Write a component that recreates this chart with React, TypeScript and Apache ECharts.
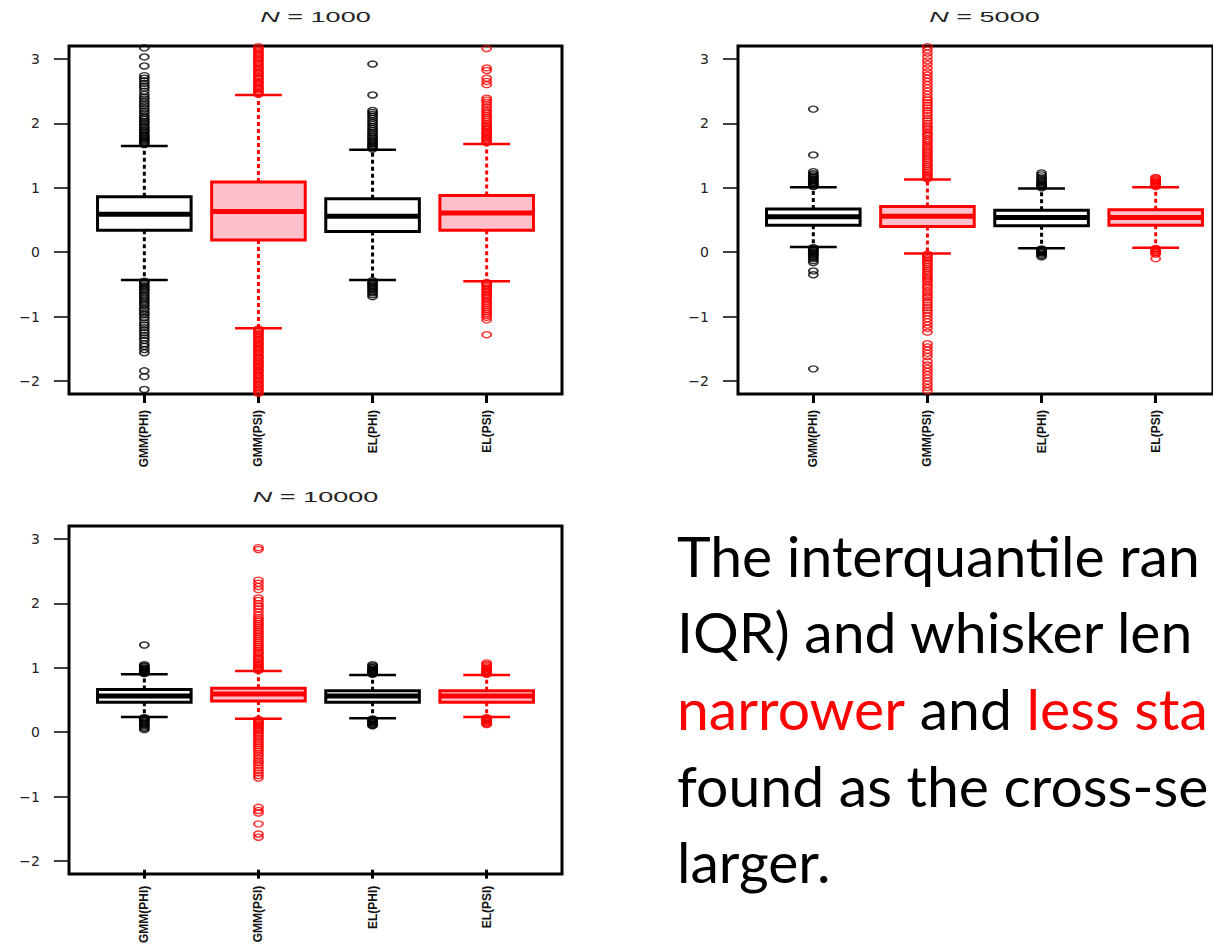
import React, { useEffect, useRef } from "react";
import * as echarts from "echarts";

// ---------------- data ----------------
const categories = ["GMM(PHI)", "GMM(PSI)", "EL(PHI)", "EL(PSI)"];
const yTickValues = [-2, -1, 0, 1, 2, 3];
const sampleSizes = ["1000", "5000", "10000"];

// box stats: [lower whisker, Q1, median, Q3, upper whisker]
const box1000 = [
  [-0.43, 0.34, 0.59, 0.86, 1.65],
  [-1.18, 0.19, 0.63, 1.09, 2.44],
  [-0.43, 0.32, 0.56, 0.83, 1.59],
  [-0.45, 0.34, 0.61, 0.88, 1.68],
];
const box5000 = [
  [0.08, 0.42, 0.55, 0.67, 1.01],
  [-0.02, 0.4, 0.56, 0.71, 1.13],
  [0.06, 0.41, 0.54, 0.65, 0.99],
  [0.07, 0.42, 0.54, 0.66, 1.01],
];
const box10000 = [
  [0.2, 0.43, 0.53, 0.63, 0.87],
  [0.17, 0.45, 0.56, 0.65, 0.92],
  [0.18, 0.43, 0.53, 0.61, 0.86],
  [0.2, 0.43, 0.53, 0.61, 0.86],
];

// outliers
const out1000GmmPhi = [1.67, 1.69, 1.71, 1.73, 1.75, 1.77, 1.79, 1.81, 1.83, 1.86, 1.88, 1.9, 1.93, 1.95, 1.98, 2.01, 2.03, 2.06, 2.09, 2.12, 2.16, 2.19, 2.23, 2.27, 2.3, 2.34, 2.38, 2.41, 2.45, 2.5, 2.55, 2.58, 2.62, 2.66, 2.7, 2.74, 2.89, 3.03, 3.17,
  -0.45, -0.47, -0.49, -0.52, -0.54, -0.57, -0.59, -0.62, -0.65, -0.68, -0.71, -0.74, -0.77, -0.8, -0.83, -0.87, -0.9, -0.94, -0.97, -1.01, -1.05, -1.1, -1.13, -1.17, -1.21, -1.25, -1.29, -1.33, -1.37, -1.42, -1.46, -1.51, -1.56, -1.84, -1.93, -2.13];
const out1000GmmPsi = [2.45, 2.47, 2.49, 2.52, 2.54, 2.56, 2.58, 2.61, 2.63, 2.65, 2.68, 2.7, 2.72, 2.74, 2.77, 2.79, 2.81, 2.84, 2.86, 2.88, 2.91, 2.93, 2.95, 2.98, 3.0, 3.02, 3.05, 3.07, 3.09, 3.12, 3.14, 3.16, 3.19,
  -1.19, -1.21, -1.23, -1.26, -1.28, -1.3, -1.33, -1.35, -1.37, -1.4, -1.42, -1.44, -1.47, -1.49, -1.51, -1.54, -1.56, -1.58, -1.61, -1.63, -1.65, -1.68, -1.7, -1.72, -1.75, -1.77, -1.79, -1.82, -1.84, -1.86, -1.89, -1.91, -1.93, -1.96, -1.98, -2.0, -2.03, -2.05, -2.07, -2.1, -2.12, -2.14, -2.17, -2.19];
const out1000ElPhi = [1.6, 1.62, 1.64, 1.66, 1.68, 1.7, 1.72, 1.74, 1.77, 1.79, 1.81, 1.84, 1.86, 1.89, 1.92, 1.95, 1.98, 2.01, 2.04, 2.08, 2.11, 2.14, 2.17, 2.2, 2.44, 2.92,
  -0.44, -0.46, -0.48, -0.5, -0.52, -0.54, -0.56, -0.58, -0.61, -0.63, -0.66, -0.69];
const out1000ElPsi = [1.7, 1.72, 1.74, 1.76, 1.78, 1.8, 1.83, 1.85, 1.87, 1.9, 1.92, 1.95, 1.97, 2.0, 2.03, 2.06, 2.09, 2.12, 2.15, 2.18, 2.21, 2.25, 2.29, 2.33, 2.36, 2.39, 2.6, 2.65, 2.7, 2.82, 2.86, 3.16,
  -0.47, -0.49, -0.51, -0.53, -0.56, -0.58, -0.61, -0.63, -0.66, -0.68, -0.71, -0.74, -0.77, -0.8, -0.83, -0.86, -0.89, -0.92, -0.95, -0.98, -1.01, -1.05, -1.28];

const out5000GmmPhi = [1.02, 1.03, 1.05, 1.06, 1.08, 1.09, 1.11, 1.12, 1.14, 1.16, 1.18, 1.2, 1.22, 1.25, 1.51, 2.22,
  0.07, 0.06, 0.04, 0.03, 0.01, 0.0, -0.02, -0.04, -0.06, -0.08, -0.1, -0.13, -0.16, -0.29, -0.35, -1.81];
const out5000GmmPsi = [1.14, 1.16, 1.19, 1.21, 1.24, 1.27, 1.3, 1.33, 1.36, 1.39, 1.42, 1.45, 1.48, 1.51, 1.54, 1.57, 1.6, 1.63, 1.66, 1.7, 1.73, 1.76, 1.8, 1.83, 1.86, 1.9, 1.93, 1.96, 2.0, 2.04, 2.08, 2.12, 2.16, 2.2, 2.24, 2.28, 2.32, 2.36, 2.4, 2.45, 2.5, 2.55, 2.6, 2.65, 2.7, 2.75, 2.8, 2.86, 2.92, 2.97, 3.03, 3.09, 3.14, 3.19,
  -0.03, -0.05, -0.08, -0.1, -0.13, -0.16, -0.19, -0.22, -0.25, -0.28, -0.31, -0.34, -0.37, -0.4, -0.43, -0.46, -0.5, -0.53, -0.56, -0.6, -0.63, -0.67, -0.7, -0.74, -0.78, -0.82, -0.86, -0.9, -0.94, -0.98, -1.03, -1.08, -1.13, -1.18, -1.24, -1.42, -1.47, -1.52, -1.57, -1.62, -1.69, -1.75, -1.8, -1.85, -1.9, -1.95, -2.0, -2.05, -2.1, -2.15];
const out5000ElPhi = [1.0, 1.02, 1.03, 1.05, 1.06, 1.08, 1.1, 1.12, 1.14, 1.17, 1.2, 1.23,
  0.05, 0.04, 0.02, 0.01, 0.0, -0.01, -0.03, -0.05, -0.07];
const out5000ElPsi = [1.02, 1.03, 1.05, 1.06, 1.08, 1.09, 1.1, 1.12, 1.13, 1.15, 1.16,
  0.06, 0.05, 0.03, 0.02, 0.0, -0.01, -0.03, -0.1];

const out10000GmmPhi = [0.88, 0.89, 0.9, 0.91, 0.92, 0.93, 0.94, 0.95, 0.96, 0.97, 0.99, 1.0, 1.02, 1.33,
  0.19, 0.18, 0.17, 0.15, 0.14, 0.12, 0.1, 0.08, 0.06, 0.04, 0.02, 0.0];
const out10000GmmPsi = [0.93, 0.95, 0.97, 0.99, 1.01, 1.03, 1.05, 1.07, 1.1, 1.12, 1.14, 1.17, 1.2, 1.22, 1.25, 1.28, 1.31, 1.34, 1.37, 1.4, 1.43, 1.46, 1.49, 1.52, 1.55, 1.58, 1.61, 1.64, 1.67, 1.7, 1.73, 1.76, 1.8, 1.85, 1.9, 1.94, 1.98, 2.03, 2.07, 2.2, 2.25, 2.3, 2.35, 2.83, 2.86,
  0.16, 0.14, 0.12, 0.1, 0.08, 0.06, 0.04, 0.02, 0.0, -0.02, -0.05, -0.07, -0.1, -0.13, -0.16, -0.19, -0.22, -0.25, -0.28, -0.31, -0.34, -0.38, -0.41, -0.45, -0.49, -0.52, -0.56, -0.6, -0.64, -0.68, -0.72, -0.76, -1.22, -1.27, -1.31, -1.48, -1.64, -1.69];
const out10000ElPhi = [0.87, 0.88, 0.89, 0.9, 0.91, 0.92, 0.93, 0.94, 0.95, 0.97, 0.98, 1.0, 1.02,
  0.17, 0.16, 0.15, 0.14, 0.13, 0.12, 0.11, 0.1, 0.08, 0.07, 0.06];
const out10000ElPsi = [0.87, 0.88, 0.89, 0.9, 0.91, 0.92, 0.93, 0.94, 0.96, 0.97, 0.99, 1.01, 1.03, 1.05,
  0.19, 0.18, 0.17, 0.16, 0.15, 0.14, 0.13, 0.12, 0.1, 0.09, 0.08];

const boxesByPanel = [box1000, box5000, box10000];
const outliersByPanel = [
  [out1000GmmPhi, out1000GmmPsi, out1000ElPhi, out1000ElPsi],
  [out5000GmmPhi, out5000GmmPsi, out5000ElPhi, out5000ElPsi],
  [out10000GmmPhi, out10000GmmPsi, out10000ElPhi, out10000ElPsi],
];

// visible part of the slide text (the slide is cut at the right edge)
const textLines = [
  "The interquantile ran",
  "IQR) and whisker len",
  "{r|narrower} and {r|less sta}",
  "found as the cross-se",
  "larger.",
];

// ---------------- styling / layout ----------------
const strokeColors = ["#000000", "#ff0000", "#000000", "#ff0000"];
const fillColors = ["#ffffff", "#ffc0cb", "#ffffff", "#ffc0cb"];
const panels = [
  { left: 69, top: 46 },
  { left: 738, top: 46 },
  { left: 69, top: 526 },
];
const FRAME_W = 493;
const FRAME_H = 348;
const Y_MIN = -2.2;
const Y_MAX = 3.2;
const X_RANGE = 4.32; // R: 0.34 .. 4.66

function fmtTick(v: number) {
  return v < 0 ? "\u2212" + Math.abs(v) : String(v);
}

function buildOption() {
  const grid: any[] = [];
  const xAxis: any[] = [];
  const yAxis: any[] = [];
  const series: any[] = [];
  const graphic: any[] = [];
  const unit = FRAME_W / X_RANGE;

  panels.forEach((p, pi) => {
    grid.push({
      left: p.left,
      top: p.top,
      width: FRAME_W,
      height: FRAME_H,
      show: true,
      borderColor: "#000",
      borderWidth: 3,
      backgroundColor: "transparent",
    });
    grid.push({
      left: p.left + unit * 0.16,
      top: p.top,
      width: unit * 4,
      height: FRAME_H,
      show: false,
    });
    const fg = pi * 2;
    const dg = pi * 2 + 1;
    xAxis.push({ type: "value", gridIndex: fg, show: false, min: 0, max: 1 });
    yAxis.push({
      type: "value",
      gridIndex: fg,
      min: Y_MIN,
      max: Y_MAX,
      axisLine: { show: false, onZero: false },
      splitLine: { show: false },
      axisTick: {
        show: true,
        length: 15,
        customValues: yTickValues,
        lineStyle: { color: "#000", width: 1.5 },
      },
      axisLabel: {
        customValues: yTickValues,
        formatter: fmtTick,
        margin: 29,
        fontSize: 14,
        fontFamily: "DejaVu Sans",
        color: "#222",
      },
    });
    xAxis.push({
      type: "category",
      gridIndex: dg,
      data: categories,
      boundaryGap: true,
      axisLine: { show: false, onZero: false },
      axisTick: {
        show: true,
        alignWithLabel: true,
        interval: 0,
        length: 9,
        lineStyle: { color: "#000", width: 3 },
      },
      axisLabel: {
        interval: 0,
        rotate: 90,
        margin: 16,
        fontSize: 12,
        fontWeight: "bold",
        fontFamily: "Liberation Sans",
        color: "#111",
      },
      splitLine: { show: false },
    });
    yAxis.push({ type: "value", gridIndex: dg, show: false, min: Y_MIN, max: Y_MAX, splitLine: { show: false } });

    const axisIdx = pi * 2 + 1;
    const boxes = boxesByPanel[pi];
    series.push({
      type: "custom",
      xAxisIndex: axisIdx,
      yAxisIndex: axisIdx,
      clip: false,
      encode: { x: 0, y: [1, 2, 3, 4, 5] },
      data: boxes.map((b, i) => [i, ...b]),
      renderItem: (params: any, api: any) => {
        const idx = api.value(0);
        const lo = api.coord([idx, api.value(1)]);
        const q1 = api.coord([idx, api.value(2)]);
        const med = api.coord([idx, api.value(3)]);
        const q3 = api.coord([idx, api.value(4)]);
        const hi = api.coord([idx, api.value(5)]);
        const band = api.size([1, 0])[0];
        const bw = band * 0.82;
        const cx = med[0];
        const col = strokeColors[idx];
        const fill = fillColors[idx];
        const cap = bw / 4;
        return {
          type: "group",
          children: [
            { type: "line", shape: { x1: cx, y1: q3[1], x2: cx, y2: hi[1] }, style: { stroke: col, lineWidth: 3, lineDash: [4, 3] } },
            { type: "line", shape: { x1: cx, y1: q1[1], x2: cx, y2: lo[1] }, style: { stroke: col, lineWidth: 3, lineDash: [4, 3] } },
            { type: "line", shape: { x1: cx - cap, y1: hi[1], x2: cx + cap, y2: hi[1] }, style: { stroke: col, lineWidth: 2.5 } },
            { type: "line", shape: { x1: cx - cap, y1: lo[1], x2: cx + cap, y2: lo[1] }, style: { stroke: col, lineWidth: 2.5 } },
            { type: "rect", shape: { x: cx - bw / 2, y: q3[1], width: bw, height: q1[1] - q3[1] }, style: { fill, stroke: col, lineWidth: 3 } },
            { type: "line", shape: { x1: cx - bw / 2, y1: med[1], x2: cx + bw / 2, y2: med[1] }, style: { stroke: col, lineWidth: 5 } },
          ],
        };
      },
    });
    outliersByPanel[pi].forEach((vals, ci) => {
      series.push({
        type: "scatter",
        xAxisIndex: axisIdx,
        yAxisIndex: axisIdx,
        symbol: "circle",
        symbolSize: [9, 6],
        clip: true,
        itemStyle: { color: "rgba(0,0,0,0)", borderColor: strokeColors[ci], borderWidth: 1.6 },
        data: vals.map((v) => [ci, v]),
      });
    });

    graphic.push({
      type: "text",
      x: p.left + FRAME_W / 2,
      y: p.top - 29,
      scaleX: 1.8,
      style: {
        text: "{i|N} = " + sampleSizes[pi],
        fontSize: 15,
        fontFamily: "Liberation Sans",
        fill: "#222",
        align: "center",
        verticalAlign: "middle",
        rich: {
          i: { fontStyle: "italic", fontSize: 15, fontFamily: "Liberation Sans", fill: "#222" },
        },
      },
    });
  });

  const FS = 56;
  const baselines = [577, 653, 730, 807, 883];
  textLines.forEach((t, i) => {
    graphic.push({
      type: "text",
      x: 677,
      y: baselines[i] - 0.387 * FS,
      scaleX: 1.02,
      style: {
        text: t,
        fontSize: FS,
        fontFamily: "Lato",
        fill: "#000",
        align: "left",
        verticalAlign: "middle",
        rich: {
          r: { fill: "#ff0000", fontSize: FS, fontFamily: "Lato" },
        },
      },
    });
  });

  return {
    animation: false,
    backgroundColor: "#ffffff",
    grid,
    xAxis,
    yAxis,
    series,
    graphic,
  };
}

export default function App() {
  const ref = useRef<HTMLDivElement>(null);
  useEffect(() => {
    if (!ref.current) return;
    const chart = echarts.init(ref.current, null, { renderer: "svg" });
    chart.setOption(buildOption() as any);
    return () => chart.dispose();
  }, []);
  return (
    <div
      ref={ref}
      style={{ position: "absolute", left: 0, top: 0, width: 1213, height: 946, background: "#fff", overflow: "hidden" }}
    />
  );
}
